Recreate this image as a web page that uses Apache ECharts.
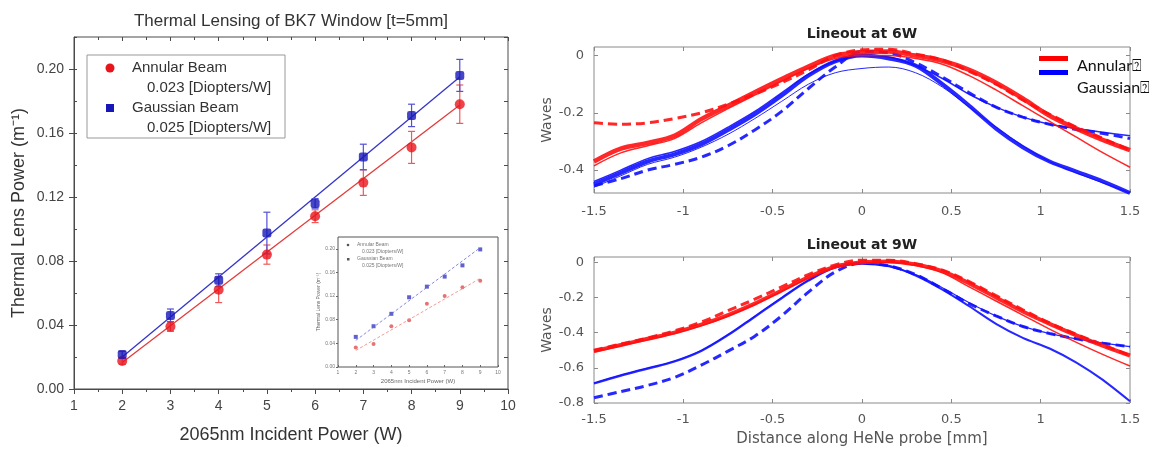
<!DOCTYPE html>
<html>
<head>
<meta charset="utf-8">
<script src="https://cdn.jsdelivr.net/npm/echarts@6/dist/echarts.min.js"></script>
<style>
  html, body { margin: 0; padding: 0; background: #ffffff; }
  #chart { width: 1162px; height: 453px; }
</style>
</head>
<body>
<div id="chart"></div>
<script>
// ---- Thermal lens power vs incident power ----
const powerW = [2, 3, 4, 5, 6, 7, 8, 9];
const annularPower = [0.0175, 0.039, 0.062, 0.084, 0.108, 0.129, 0.151, 0.178];
const annularErr   = [0.002, 0.003, 0.008, 0.006, 0.004, 0.008, 0.010, 0.012];
const gaussianPower = [0.0215, 0.046, 0.068, 0.0975, 0.116, 0.145, 0.171, 0.196];
const gaussianErr   = [0.002, 0.004, 0.004, 0.013, 0.003, 0.008, 0.007, 0.010];
// linear fits (0.023 and 0.025 Diopters/W), end points at 2 W and 9 W
const annularFit  = [[2, 0.0165], [9, 0.1775]];
const gaussianFit = [[2, 0.0200], [9, 0.1950]];
const leftYTicks = [0, 0.04, 0.08, 0.12, 0.16, 0.20];

// ---- small inset version of the same measurement ----
const insetAnnular  = [0.033, 0.039, 0.069, 0.079, 0.107, 0.120, 0.135, 0.146];
const insetGaussian = [0.051, 0.069, 0.090, 0.118, 0.136, 0.153, 0.172, 0.199];
const insetAnnularFit  = [[2, 0.028], [9, 0.150]];
const insetGaussianFit = [[2, 0.045], [9, 0.202]];

// ---- HeNe probe lineouts ----
const probeMm = [-1.5, -1.35, -1.2, -1.05, -0.9, -0.75, -0.6, -0.45, -0.3, -0.15, 0,
                 0.15, 0.3, 0.45, 0.6, 0.75, 0.9, 1.05, 1.2, 1.35, 1.5];

// 6 W
const w6AnnularThick = [-0.37, -0.325, -0.305, -0.28, -0.222, -0.175, -0.128, -0.082, -0.038, 0.0, 0.012,
                        0.014, 0.0, -0.018, -0.05, -0.095, -0.15, -0.21, -0.255, -0.295, -0.33];
const w6AnnularThin  = [-0.385, -0.34, -0.315, -0.29, -0.235, -0.185, -0.138, -0.09, -0.045, -0.01, 0.0,
                        0.0, -0.01, -0.03, -0.07, -0.12, -0.175, -0.23, -0.285, -0.34, -0.39];
const w6AnnularDash  = [-0.235, -0.24, -0.235, -0.22, -0.2, -0.17, -0.135, -0.095, -0.05, 0.0, 0.02,
                        0.022, 0.005, -0.015, -0.055, -0.1, -0.155, -0.205, -0.25, -0.29, -0.33];
const w6GaussThick   = [-0.45, -0.41, -0.37, -0.345, -0.31, -0.26, -0.205, -0.14, -0.07, -0.02, 0.0,
                        -0.01, -0.035, -0.1, -0.175, -0.255, -0.32, -0.37, -0.405, -0.44, -0.48];
const w6GaussUpper   = [-0.44, -0.4, -0.36, -0.335, -0.3, -0.25, -0.195, -0.13, -0.065, -0.02, 0.0,
                        -0.005, -0.035, -0.08, -0.135, -0.18, -0.215, -0.24, -0.255, -0.268, -0.28];
const w6GaussLower   = [-0.46, -0.42, -0.38, -0.355, -0.32, -0.275, -0.22, -0.16, -0.1, -0.06, -0.045,
                        -0.04, -0.06, -0.11, -0.18, -0.25, -0.315, -0.37, -0.41, -0.445, -0.48];
const w6GaussDash    = [-0.455, -0.43, -0.4, -0.38, -0.355, -0.315, -0.26, -0.195, -0.115, -0.04, 0.015,
                        0.01, -0.025, -0.075, -0.13, -0.18, -0.215, -0.24, -0.258, -0.272, -0.29];

// 9 W
const w9AnnularThick = [-0.505, -0.47, -0.435, -0.4, -0.355, -0.3, -0.235, -0.16, -0.085, -0.025, 0.0,
                        0.005, -0.012, -0.05, -0.12, -0.2, -0.28, -0.35, -0.415, -0.475, -0.53];
const w9AnnularThin  = [-0.51, -0.475, -0.44, -0.405, -0.36, -0.305, -0.24, -0.165, -0.09, -0.03, -0.005,
                        0.0, -0.018, -0.06, -0.14, -0.22, -0.3, -0.38, -0.455, -0.525, -0.59];
const w9AnnularDash  = [-0.5, -0.465, -0.43, -0.39, -0.34, -0.275, -0.21, -0.14, -0.07, -0.015, 0.012,
                        0.012, -0.008, -0.045, -0.11, -0.19, -0.27, -0.345, -0.41, -0.47, -0.53];
const w9GaussThick   = [-0.69, -0.645, -0.605, -0.565, -0.505, -0.415, -0.31, -0.205, -0.105, -0.03, -0.005,
                        -0.02, -0.075, -0.155, -0.25, -0.35, -0.43, -0.49, -0.57, -0.67, -0.79];
const w9GaussUpper   = [-0.685, -0.64, -0.6, -0.56, -0.5, -0.41, -0.305, -0.2, -0.1, -0.028, -0.01,
                        -0.025, -0.07, -0.145, -0.23, -0.305, -0.365, -0.405, -0.435, -0.46, -0.48];
const w9GaussDash    = [-0.77, -0.735, -0.7, -0.655, -0.585, -0.505, -0.42, -0.305, -0.17, -0.055, -0.005,
                        -0.02, -0.07, -0.15, -0.235, -0.305, -0.365, -0.405, -0.435, -0.46, -0.48];

const w6Ticks = [-0.4, -0.2, 0];
const w9Ticks = [-0.8, -0.6, -0.4, -0.2, 0];

// ---- styling ----
const sansL = 'Liberation Sans, Arial, sans-serif';
const sansR = 'DejaVu Sans, sans-serif';
const RED = '#e8141c', BLUE = '#1717b8';
const LINE_RED = '#ff1010', LINE_BLUE = '#1010ff';

function pairs(xs, ys) { return xs.map((x, i) => [x, ys[i]]); }
function spans(xs, ys, es) { return xs.map((x, i) => [x, ys[i] - es[i], ys[i] + es[i]]); }

function errorBarRenderer(color) {
  return function (params, api) {
    const x = api.value(0);
    const lo = api.coord([x, api.value(1)]);
    const hi = api.coord([x, api.value(2)]);
    const cap = 3.5;
    const style = { stroke: color, lineWidth: 1.2 };
    return {
      type: 'group',
      children: [
        { type: 'line', shape: { x1: lo[0], y1: lo[1], x2: hi[0], y2: hi[1] }, style },
        { type: 'line', shape: { x1: lo[0] - cap, y1: lo[1], x2: lo[0] + cap, y2: lo[1] }, style },
        { type: 'line', shape: { x1: hi[0] - cap, y1: hi[1], x2: hi[0] + cap, y2: hi[1] }, style }
      ]
    };
  };
}

function lineout(ys, xi, yi, color, width, dashed, z) {
  return {
    type: 'line', xAxisIndex: xi, yAxisIndex: yi, data: pairs(probeMm, ys),
    showSymbol: false, smooth: 0.35, silent: true, z: z || 2,
    lineStyle: { color: color, width: width, type: dashed ? [9, 5] : 'solid', opacity: 0.9 }
  };
}

function textEl(x, y, text, font, fill, align, rotation) {
  return {
    type: 'text', x: x, y: y, rotation: rotation || 0, silent: true,
    style: { text: text, font: font, fill: fill,
             textAlign: align || 'left', align: align || 'left',
             textVerticalAlign: 'middle', verticalAlign: 'middle' }
  };
}

const frameL = '#4a4a4a', frameR = '#8a8a8a';
const noLine = { show: false, onZero: false };

const mirrorX = (grid, min, max, interval, inside, len, minor) => ({
  gridIndex: grid, type: 'value', position: 'top', min, max, interval,
  axisLine: noLine, axisLabel: { show: false }, splitLine: { show: false },
  axisTick: { show: true, inside: inside, length: len, lineStyle: { color: grid === 0 ? frameL : frameR } },
  minorTick: { show: !!minor, splitNumber: 2, length: 3, lineStyle: { color: frameL } }
});

const option = {
  animation: false,
  backgroundColor: '#ffffff',
  grid: [
    { left: 74, top: 37, width: 434, height: 352, show: true, borderColor: frameL, borderWidth: 1 },
    { left: 338, top: 237, width: 160, height: 130, show: true, borderColor: '#555', borderWidth: 1, backgroundColor: '#fff' },
    { left: 594, top: 47, width: 536, height: 146, show: true, borderColor: frameR, borderWidth: 1 },
    { left: 594, top: 257, width: 536, height: 146, show: true, borderColor: frameR, borderWidth: 1 }
  ],
  xAxis: [
    { // 0: power axis
      gridIndex: 0, type: 'value', min: 1, max: 10, interval: 1,
      name: '2065nm Incident Power (W)', nameLocation: 'middle', nameGap: 37,
      nameTextStyle: { fontFamily: sansL, fontSize: 18, color: '#333' },
      axisLine: { show: true, onZero: false, lineStyle: { color: frameL } },
      axisTick: { show: true, length: 5, lineStyle: { color: frameL } },
      minorTick: { show: true, splitNumber: 2, length: 3, lineStyle: { color: frameL } },
      axisLabel: { fontFamily: sansL, fontSize: 14, color: '#444', margin: 10 },
      splitLine: { show: false }
    },
    mirrorX(0, 1, 10, 1, true, 4, true),
    { // 2: inset power axis
      gridIndex: 1, type: 'value', min: 1, max: 10, interval: 1,
      name: '2065nm Incident Power (W)', nameLocation: 'middle', nameGap: 11,
      nameTextStyle: { fontFamily: sansL, fontSize: 6, color: '#666' },
      axisLine: noLine, axisTick: { show: true, inside: true, length: 2, lineStyle: { color: '#666' } },
      axisLabel: { fontFamily: sansL, fontSize: 5, color: '#777', margin: 3 },
      splitLine: { show: false }
    },
    { // 3: 6 W probe axis
      gridIndex: 2, type: 'value', min: -1.5, max: 1.5, interval: 0.5,
      axisLine: noLine,
      axisTick: { show: true, inside: true, length: 4, lineStyle: { color: frameR } },
      axisLabel: { fontFamily: sansR, fontSize: 13, color: '#555', margin: 12 },
      splitLine: { show: false }
    },
    mirrorX(2, -1.5, 1.5, 0.5, true, 4, false),
    { // 5: 9 W probe axis
      gridIndex: 3, type: 'value', min: -1.5, max: 1.5, interval: 0.5,
      name: 'Distance along HeNe probe [mm]', nameLocation: 'middle', nameGap: 29,
      nameTextStyle: { fontFamily: sansR, fontSize: 15, color: '#555' },
      axisLine: noLine,
      axisTick: { show: true, inside: true, length: 4, lineStyle: { color: frameR } },
      axisLabel: { fontFamily: sansR, fontSize: 13, color: '#555', margin: 10 },
      splitLine: { show: false }
    },
    mirrorX(3, -1.5, 1.5, 0.5, true, 4, false)
  ],
  yAxis: [
    { // 0: lens power, labelled majors
      gridIndex: 0, type: 'value', min: 0, max: 0.22,
      name: 'Thermal Lens Power (m\u207B\u00B9)', nameLocation: 'middle', nameGap: 46, nameRotate: 90,
      nameTextStyle: { fontFamily: sansL, fontSize: 18, color: '#333' },
      axisLine: { show: true, onZero: false, lineStyle: { color: frameL } },
      axisTick: { show: true, length: 5, customValues: leftYTicks, lineStyle: { color: frameL } },
      axisLabel: { fontFamily: sansL, fontSize: 14, color: '#444', margin: 10,
                   customValues: leftYTicks, formatter: v => v.toFixed(2) },
      splitLine: { show: false }
    },
    { // 1: minor ticks on the left edge
      gridIndex: 0, type: 'value', min: 0, max: 0.22, interval: 0.02, position: 'left',
      axisLine: noLine, axisLabel: { show: false }, splitLine: { show: false },
      axisTick: { show: true, inside: true, length: 3, lineStyle: { color: frameL } }
    },
    { // 2: right edge ticks
      gridIndex: 0, type: 'value', min: 0, max: 0.22, interval: 0.02, position: 'right',
      axisLine: noLine, axisLabel: { show: false }, splitLine: { show: false },
      axisTick: { show: true, inside: true, length: 4, lineStyle: { color: frameL } }
    },
    { // 3: inset lens power
      gridIndex: 1, type: 'value', min: 0, max: 0.22, interval: 0.04,
      name: 'Thermal Lens Power (m\u207B\u00B9)', nameLocation: 'middle', nameGap: 12, nameRotate: 90,
      nameTextStyle: { fontFamily: sansL, fontSize: 5, color: '#666' },
      axisLine: noLine,
      axisTick: { show: true, length: 2, lineStyle: { color: '#666' } },
      axisLabel: { fontFamily: sansL, fontSize: 5, color: '#777', margin: 3, showMaxLabel: false,
                   formatter: v => v.toFixed(2) },
      splitLine: { show: false }
    },
    { // 4: 6 W waves
      gridIndex: 2, type: 'value', min: -0.48, max: 0.03, position: 'left',
      name: 'Waves', nameLocation: 'middle', nameGap: 40, nameRotate: 90,
      nameTextStyle: { fontFamily: sansR, fontSize: 14, color: '#555' },
      axisLine: noLine,
      axisTick: { show: true, inside: true, length: 4, customValues: w6Ticks, lineStyle: { color: frameR } },
      axisLabel: { fontFamily: sansR, fontSize: 13, color: '#555', margin: 10, customValues: w6Ticks },
      splitLine: { show: false }
    },
    { // 5: 6 W right edge
      gridIndex: 2, type: 'value', min: -0.48, max: 0.03, position: 'right',
      axisLine: noLine, axisLabel: { show: false }, splitLine: { show: false },
      axisTick: { show: true, inside: true, length: 4, customValues: w6Ticks, lineStyle: { color: frameR } }
    },
    { // 6: 9 W waves
      gridIndex: 3, type: 'value', min: -0.8, max: 0.03, position: 'left',
      name: 'Waves', nameLocation: 'middle', nameGap: 40, nameRotate: 90,
      nameTextStyle: { fontFamily: sansR, fontSize: 14, color: '#555' },
      axisLine: noLine,
      axisTick: { show: true, inside: true, length: 4, customValues: w9Ticks, lineStyle: { color: frameR } },
      axisLabel: { fontFamily: sansR, fontSize: 13, color: '#555', margin: 10, customValues: w9Ticks },
      splitLine: { show: false }
    },
    { // 7: 9 W right edge
      gridIndex: 3, type: 'value', min: -0.8, max: 0.03, position: 'right',
      axisLine: noLine, axisLabel: { show: false }, splitLine: { show: false },
      axisTick: { show: true, inside: true, length: 4, customValues: w9Ticks, lineStyle: { color: frameR } }
    }
  ],
  series: [
    // main plot: fits, error bars, measured points
    { type: 'line', xAxisIndex: 0, yAxisIndex: 0, data: annularFit, showSymbol: false, silent: true,
      lineStyle: { color: '#e43a3a', width: 1.3 }, z: 2 },
    { type: 'line', xAxisIndex: 0, yAxisIndex: 0, data: gaussianFit, showSymbol: false, silent: true,
      lineStyle: { color: '#3434c8', width: 1.3 }, z: 2 },
    { type: 'custom', xAxisIndex: 0, yAxisIndex: 0, data: spans(powerW, annularPower, annularErr),
      encode: { x: 0, y: [1, 2] }, renderItem: errorBarRenderer('#ee5a5a'), silent: true, z: 3 },
    { type: 'custom', xAxisIndex: 0, yAxisIndex: 0, data: spans(powerW, gaussianPower, gaussianErr),
      encode: { x: 0, y: [1, 2] }, renderItem: errorBarRenderer('#5050d8'), silent: true, z: 3 },
    { type: 'scatter', xAxisIndex: 0, yAxisIndex: 0, data: pairs(powerW, annularPower), symbol: 'circle',
      symbolSize: 10, itemStyle: { color: RED }, silent: true, z: 4 },
    { type: 'scatter', xAxisIndex: 0, yAxisIndex: 0, data: pairs(powerW, gaussianPower), symbol: 'roundRect',
      symbolSize: 9, itemStyle: { color: BLUE }, silent: true, z: 5 },

    // inset
    { type: 'line', xAxisIndex: 2, yAxisIndex: 3, data: insetAnnularFit, showSymbol: false, silent: true,
      lineStyle: { color: '#f08080', width: 0.8, type: [3, 2] } },
    { type: 'line', xAxisIndex: 2, yAxisIndex: 3, data: insetGaussianFit, showSymbol: false, silent: true,
      lineStyle: { color: '#6a6ae0', width: 0.8, type: [3, 2] } },
    { type: 'scatter', xAxisIndex: 2, yAxisIndex: 3, data: pairs(powerW, insetAnnular), symbol: 'circle',
      symbolSize: 4, itemStyle: { color: '#e05050' }, silent: true },
    { type: 'scatter', xAxisIndex: 2, yAxisIndex: 3, data: pairs(powerW, insetGaussian), symbol: 'rect',
      symbolSize: 4, itemStyle: { color: '#3a3ac0' }, silent: true },

    // 6 W lineouts
    lineout(w6GaussLower, 3, 4, LINE_BLUE, 1, false, 2),
    lineout(w6GaussThick, 3, 4, LINE_BLUE, 4, false, 2),
    lineout(w6GaussUpper, 3, 4, LINE_BLUE, 1.5, false, 2),
    lineout(w6GaussDash, 3, 4, LINE_BLUE, 3, true, 2),
    lineout(w6AnnularThin, 3, 4, LINE_RED, 1.5, false, 3),
    lineout(w6AnnularThick, 3, 4, LINE_RED, 4.5, false, 3),
    lineout(w6AnnularDash, 3, 4, LINE_RED, 3, true, 3),

    // 9 W lineouts
    lineout(w9GaussUpper, 5, 6, LINE_BLUE, 1.3, false, 2),
    lineout(w9GaussThick, 5, 6, LINE_BLUE, 2, false, 2),
    lineout(w9GaussDash, 5, 6, LINE_BLUE, 3, true, 2),
    lineout(w9AnnularThin, 5, 6, LINE_RED, 1.5, false, 3),
    lineout(w9AnnularThick, 5, 6, LINE_RED, 4, false, 3),
    lineout(w9AnnularDash, 5, 6, LINE_RED, 3, true, 3)
  ],
  graphic: [
    // titles
    textEl(291, 21, 'Thermal Lensing of BK7 Window [t=5mm]', '17px ' + sansL, '#333', 'center'),
    textEl(862, 34, 'Lineout at 6W', 'bold 14px ' + sansR, '#222', 'center'),
    textEl(862, 245, 'Lineout at 9W', 'bold 14px ' + sansR, '#222', 'center'),

    // legend of the lens power plot
    { type: 'rect', shape: { x: 87, y: 55, width: 198, height: 83 }, silent: true, z: 10,
      style: { fill: '#ffffff', stroke: '#999', lineWidth: 1 } },
    { type: 'circle', shape: { cx: 110, cy: 68, r: 4.5 }, style: { fill: RED }, silent: true, z: 11 },
    { type: 'rect', shape: { x: 106, y: 104, width: 8, height: 8 }, style: { fill: BLUE }, silent: true, z: 11 },
    Object.assign(textEl(132, 68, 'Annular Beam', '15px ' + sansL, '#333'), { z: 11 }),
    Object.assign(textEl(147, 88, '0.023 [Diopters/W]', '15px ' + sansL, '#333'), { z: 11 }),
    Object.assign(textEl(132, 108, 'Gaussian Beam', '15px ' + sansL, '#333'), { z: 11 }),
    Object.assign(textEl(147, 128, '0.025 [Diopters/W]', '15px ' + sansL, '#333'), { z: 11 }),

    // legend of the inset
    { type: 'circle', shape: { cx: 348, cy: 245, r: 1.3 }, style: { fill: '#555' }, silent: true, z: 11 },
    { type: 'rect', shape: { x: 347, y: 258, width: 2.5, height: 2.5 }, style: { fill: '#555' }, silent: true, z: 11 },
    Object.assign(textEl(357, 245, 'Annular Beam', '5px ' + sansL, '#777'), { z: 11 }),
    Object.assign(textEl(362, 252, '0.023 [Diopters/W]', '5px ' + sansL, '#777'), { z: 11 }),
    Object.assign(textEl(357, 259, 'Gaussian Beam', '5px ' + sansL, '#777'), { z: 11 }),
    Object.assign(textEl(362, 266, '0.025 [Diopters/W]', '5px ' + sansL, '#777'), { z: 11 }),

    // legend of the lineouts
    { type: 'rect', shape: { x: 1039, y: 56, width: 29, height: 5 }, style: { fill: '#ff0000' }, silent: true, z: 11 },
    { type: 'rect', shape: { x: 1039, y: 70, width: 29, height: 5 }, style: { fill: '#0000ff' }, silent: true, z: 11 },
    Object.assign(textEl(1077, 66, 'Annular\u2370', '16px Lato, sans-serif', '#111'), { z: 11 }),
    Object.assign(textEl(1077, 88, 'Gaussian\u2370', '16px Lato, sans-serif', '#111'), { z: 11 })
  ]
};

const chart = echarts.init(document.getElementById('chart'), null, { renderer: 'canvas' });
chart.setOption(option);
</script>
</body>
</html>
